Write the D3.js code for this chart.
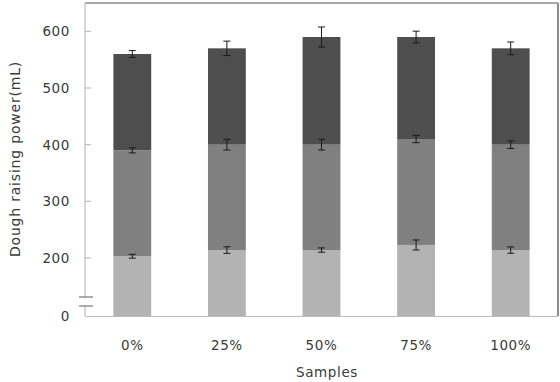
<!DOCTYPE html>
<html>
<head>
<meta charset="utf-8">
<script src="https://cdn.jsdelivr.net/npm/d3@7"></script>
<style>
  body { margin: 0; background: #fff; }
  svg { display: block; font-family: "DejaVu Sans", "Noto Sans", sans-serif; }
  .tick-label { font-size: 13.5px; fill: #3a3a3a; letter-spacing: 0.6px; }
  .axis-label { font-size: 13.5px; fill: #3a3a3a; letter-spacing: 0.6px; }
  .y-label { font-size: 14px; letter-spacing: 0.8px; }
</style>
</head>
<body>
<svg id="chart" width="560" height="382"></svg>
<script>
// data
const samples = ["0%", "25%", "50%", "75%", "100%"];
const layerBottom = [203, 214, 214, 223, 214];
const layerMiddle = [390, 400, 400, 410, 400];
const layerTop = [560, 570, 590, 590, 570];
const errBottom = [3.5, 5.8, 3.8, 8.8, 5.6];
const errMiddle = [4.5, 9.4, 9.4, 6.5, 6.7];
const errTop = [6, 12.7, 17.7, 10.3, 11.2];
const yTicks = [0, 200, 300, 400, 500, 600];

const svg = d3.select("#chart");
const plotL = 85, plotR = 558, plotT = 3, plotB = 316;

// broken axis: 0 sits just below the 200 gridline
const y = d3.scaleLinear().domain([0, 200, 650]).range([plotB, 258, plotT]);
const x = d3.scaleBand().domain(samples).range([plotL, plotR])
  .paddingInner(0.6).paddingOuter(0.3);

const layers = [
  { top: layerBottom, base: null, err: errBottom, color: "#b3b3b3" },
  { top: layerMiddle, base: layerBottom, err: errMiddle, color: "#808080" },
  { top: layerTop, base: layerMiddle, err: errTop, color: "#4e4e4e" }
];

/* ---------- bars ---------- */
layers.forEach(layer => {
  svg.append("g").selectAll("rect")
    .data(samples)
    .join("rect")
    .attr("x", d => x(d))
    .attr("width", x.bandwidth())
    .attr("y", (d, i) => y(layer.top[i]))
    .attr("height", (d, i) => (layer.base ? y(layer.base[i]) : plotB) - y(layer.top[i]))
    .attr("fill", layer.color);
});

/* ---------- error bars ---------- */
const capW = 3.5;
layers.forEach(layer => {
  const eg = svg.append("g").attr("stroke", "#1a1a1a").attr("stroke-width", 1);
  samples.forEach((s, i) => {
    const cx = x(s) + x.bandwidth() / 2;
    const y1 = y(layer.top[i] + layer.err[i]);
    const y2 = y(layer.top[i] - layer.err[i]);
    eg.append("line").attr("x1", cx).attr("x2", cx).attr("y1", y1).attr("y2", y2);
    eg.append("line").attr("x1", cx - capW).attr("x2", cx + capW).attr("y1", y1).attr("y2", y1);
    eg.append("line").attr("x1", cx - capW).attr("x2", cx + capW).attr("y1", y2).attr("y2", y2);
  });
});

/* ---------- frame & axes ---------- */
svg.append("line").attr("x1", plotL).attr("x2", plotR).attr("y1", plotT).attr("y2", plotT)
  .attr("stroke", "#8c8c8c").attr("stroke-width", 1.5);
svg.append("line").attr("x1", plotR).attr("x2", plotR).attr("y1", plotT).attr("y2", plotB)
  .attr("stroke", "#8c8c8c").attr("stroke-width", 2);
svg.append("line").attr("x1", plotL).attr("x2", plotR).attr("y1", plotB + 0.5).attr("y2", plotB + 0.5)
  .attr("stroke", "#bdbdbd").attr("stroke-width", 1.2);

// left axis, with a gap for the break
const breakTop = 297, breakBot = 306;
svg.append("line").attr("x1", plotL).attr("x2", plotL).attr("y1", plotT).attr("y2", breakTop)
  .attr("stroke", "#bdbdbd").attr("stroke-width", 1.2);
svg.append("line").attr("x1", plotL).attr("x2", plotL).attr("y1", breakBot).attr("y2", plotB)
  .attr("stroke", "#bdbdbd").attr("stroke-width", 1.2);
[breakTop, breakBot].forEach(by => {
  svg.append("line").attr("x1", plotL - 6).attr("x2", plotL + 8).attr("y1", by).attr("y2", by)
    .attr("stroke", "#777").attr("stroke-width", 1.2);
});

// y ticks (inward) and labels
yTicks.forEach(t => {
  if (t > 0) {
    svg.append("line").attr("x1", plotL).attr("x2", plotL + 6)
      .attr("y1", y(t)).attr("y2", y(t))
      .attr("stroke", "#bdbdbd").attr("stroke-width", 1.2);
  }
  svg.append("text").attr("class", "tick-label")
    .attr("x", 70).attr("y", y(t)).attr("dy", "0.36em")
    .attr("text-anchor", "end").text(t);
});

// x labels
samples.forEach(s => {
  svg.append("text").attr("class", "tick-label")
    .attr("x", x(s) + x.bandwidth() / 2).attr("y", 345).attr("dy", "0.36em")
    .attr("text-anchor", "middle").text(s);
});

svg.append("text").attr("class", "axis-label")
  .attr("x", 327).attr("y", 377)
  .attr("text-anchor", "middle").text("Samples");

svg.append("text").attr("class", "axis-label y-label")
  .attr("transform", "rotate(-90)")
  .attr("x", -159).attr("y", 15).attr("dy", "0.36em")
  .attr("text-anchor", "middle").text("Dough raising power(mL)");
</script>
</body>
</html>
